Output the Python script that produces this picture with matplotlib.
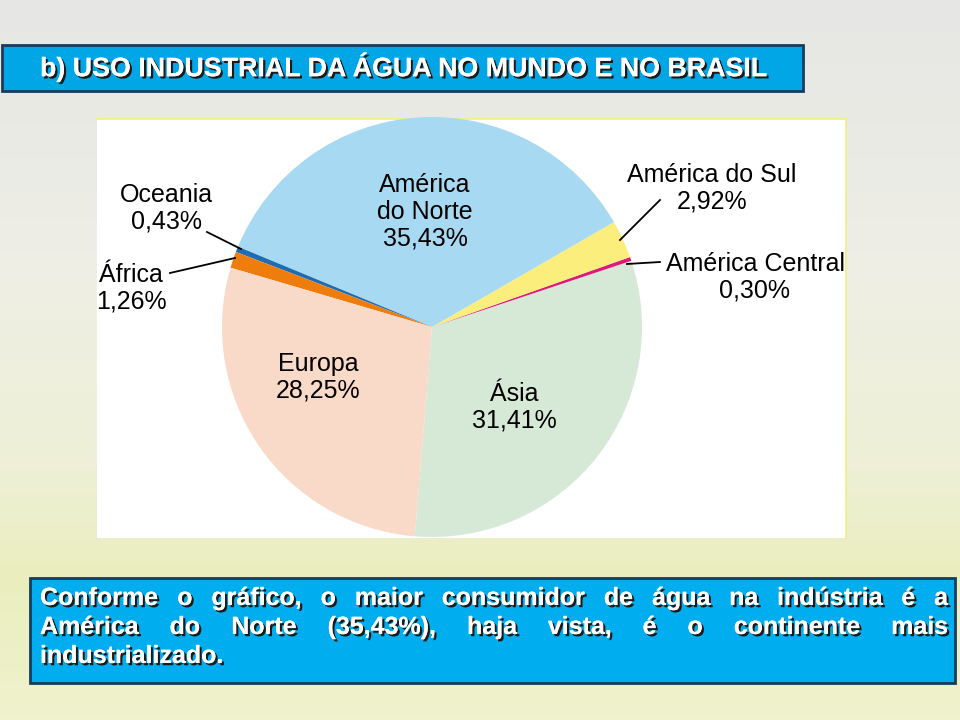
import matplotlib
matplotlib.use('Agg')
import matplotlib.pyplot as plt
import matplotlib.patheffects as pe
from matplotlib.patches import Rectangle
import numpy as np

plt.rcParams['font.family'] = ['Liberation Sans', 'DejaVu Sans']

# data
regioes = ['Ásia', 'América Central', 'América do Sul', 'América do Norte',
           'Oceania', 'África', 'Europa']
valores = [31.41, 0.30, 2.92, 35.43, 0.43, 1.26, 28.25]
cores = ['#d6e9d6', '#e0187c', '#fbee7c', '#a7daf2', '#1e6cb4', '#ef7d0c', '#f9d9c8']

titulo = 'b) USO INDUSTRIAL DA ÁGUA NO MUNDO E NO BRASIL'
texto_linhas = ['Conforme o gráfico, o maior consumidor de água na indústria é a',
                'América do Norte (35,43%), haja vista, é o continente mais',
                'industrializado.']

W, H = 960, 720
fig = plt.figure(figsize=(9.6, 7.2), dpi=100)

# slide background (full figure, pixel coords, y down)
bg = fig.add_axes([0, 0, 1, 1])
bg.set_xlim(0, W)
bg.set_ylim(H, 0)
bg.axis('off')
yy = np.linspace(0, 1, 200)
stops = [0, 0.35, 0.65, 0.8, 1]
rr = np.interp(yy, stops, [230, 238, 238, 234, 240])
gg = np.interp(yy, stops, [230, 238, 240, 238, 242])
bb = np.interp(yy, stops, [228, 230, 214, 190, 205])
grad = np.stack([rr, gg, bb], axis=1)[:, None, :].repeat(2, axis=1) / 255
bg.imshow(grad, extent=[0, W, H, 0], aspect='auto', zorder=0)

shadow = [pe.withSimplePatchShadow(offset=(1.6, -1.6), shadow_rgbFace='#1a1a1a', alpha=1.0), pe.Normal()]

# title box
bg.add_patch(Rectangle((2, 45), 801, 46, facecolor='#00a6e6', edgecolor='#1a3a5e', lw=2, zorder=2))
bg.text(40, 67, titulo, color='white', fontsize=19.3, fontweight='bold',
        ha='left', va='center', path_effects=shadow, zorder=3)

# white chart panel
bg.add_patch(Rectangle((97, 119), 749, 419, facecolor='white', edgecolor='none', zorder=2))
bg.plot([846, 846], [119, 538], color='#f2ee80', lw=1.2, zorder=2)
bg.plot([97, 846], [119, 119], color='#f2ee80', lw=1.2, zorder=2)

# bottom text box, justified lines
bg.add_patch(Rectangle((30, 578), 925, 105, facecolor='#00aeef', edgecolor='#1a3a5e', lw=2, zorder=2))
fig.canvas.draw()
renderer = fig.canvas.get_renderer()
x0, x1 = 40, 948
for i, linha in enumerate(texto_linhas):
    y = 598 + i * 29
    kw = dict(color='white', fontsize=18, fontweight='bold',
              va='center', ha='left', path_effects=shadow, zorder=3)
    if i == len(texto_linhas) - 1:
        bg.text(x0, y, linha, **kw)
        continue
    palavras = linha.split(' ')
    objs = [bg.text(0, y, p, **kw) for p in palavras]
    larg = [o.get_window_extent(renderer).width for o in objs]
    gap = (x1 - x0 - sum(larg)) / (len(palavras) - 1)
    x = x0
    for o, w in zip(objs, larg):
        o.set_x(x)
        x += w + gap

# pie
cx, cy, r = 432, 327, 210
ax = fig.add_axes([(cx - r) / W, 1 - (cy + r) / H, 2 * r / W, 2 * r / H])
ax.pie(valores, colors=cores, startangle=-94.7, counterclock=True,
       wedgeprops=dict(linewidth=0))
ax.set_xlim(-1, 1)
ax.set_ylim(-1, 1)
ax.set_aspect('equal')
ax.axis('off')


def P(px, py):
    return ((px - cx) / r, (cy - py) / r)


fs = 18
ax.text(*P(425, 212), 'América\ndo Norte\n35,43%', ha='center', va='center', fontsize=fs, linespacing=1.15)
ax.text(*P(318, 377), 'Europa\n28,25%', ha='center', va='center', fontsize=fs, linespacing=1.15)
ax.text(*P(514, 407), 'Ásia\n31,41%', ha='center', va='center', fontsize=fs, linespacing=1.15)

externos = [
    ('Oceania\n0,43%', (166, 208), (207, 232), (241, 249)),
    ('África\n1,26%', (131, 288), (170, 273), (235, 258)),
    ('América do Sul\n2,92%', (712, 188), (660, 200), (620, 240)),
    ('América Central\n0,30%', (755, 277), (660, 262), (627, 264)),
]
for txt, pos, a, b in externos:
    ax.text(*P(*pos), txt, ha='center', va='center', fontsize=fs, linespacing=1.15)
    ax.plot([P(*a)[0], P(*b)[0]], [P(*a)[1], P(*b)[1]], color='black', lw=1.3, clip_on=False)

fig.savefig('out.png', dpi=100)
